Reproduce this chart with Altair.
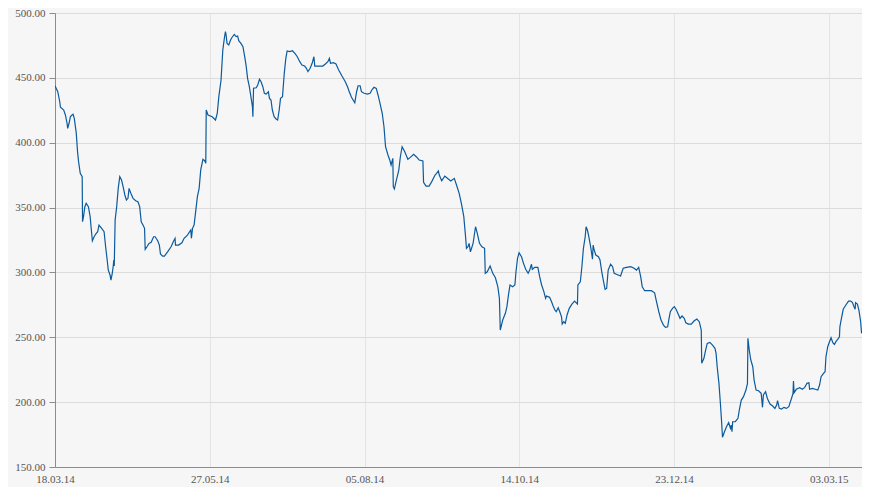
import altair as alt
import pandas as pd

START = "2014-03-18"
END = "2015-03-18"

# days since 18.03.14 (fractional)
days = [0, 1.25, 2.15, 2.46, 3.94, 4.7, 5.46, 5.73, 6.36, 6.94, 7.7, 8.15, 8.73, 9.63, 10.2, 10.66, 11.42, 12.3, 12.45, 12.9,
        13.5, 14.1, 15.1, 15.9, 16.3, 16.9, 17.7, 18.4, 19.3, 19.9, 21.1, 22.2, 22.9, 23.6, 24.1, 24.9, 25.3, 25.9, 26.3, 26.6,
        26.8, 27.2, 27.9, 28.6, 29.3, 30.1, 30.8, 31.6, 32.3, 33.0, 33.5, 34.3, 35.3, 36.5, 37.5, 38.3, 39.0, 39.8, 40.5, 40.8,
        41.6, 42.5, 43.5, 44.6, 45.3, 46.5, 47.2, 47.7, 48.7, 49.5, 51.0, 52.5, 53.5, 54.3, 54.5, 55.9, 57.4, 58.4, 59.9, 61.4,
        61.7, 62.2, 62.9, 63.7, 64.4, 65.2, 65.9, 66.9, 67.7, 68.2, 68.4, 69.2, 71.1, 72.6, 73.4, 74.1, 75.1, 75.9, 76.7, 77.1,
        77.4, 77.8, 78.6, 79.4, 80.1, 81.1, 81.9, 82.6, 83.1, 84.1, 85.0, 85.8, 86.5, 87.1, 87.9, 88.6, 89.3, 89.5, 89.8, 91.0,
        91.7, 92.5, 93.2, 94.0, 94.7, 95.5, 96.5, 97.0, 97.7, 98.3, 99.1, 100.0, 100.7, 101.4, 102.0, 102.9, 103.7, 104.4, 105.0, 106.2,
        107.4, 108.5, 109.6, 110.7, 111.7, 112.9, 113.7, 114.4, 115.4, 116.3, 117.1, 117.5, 118.9, 121.1, 122.3, 123.4, 124.1, 124.6, 125.9, 127.1,
        128.3, 129.8, 131.3, 132.3, 133.1, 134.1, 135.6, 136.4, 137.1, 138.0, 138.6, 139.8, 141.3, 142.5, 143.5, 144.3, 145.3, 146.1, 147.0, 148.0,
        148.8, 149.5, 150.6, 151.4, 152.0, 152.8, 153.0, 153.5, 154.4, 155.5, 156.2, 157.0, 158.2, 159.6, 160.7, 162.2, 163.4, 164.7, 166.4, 166.7,
        167.8, 169.2, 170.4, 171.9, 172.6, 173.4, 173.8, 174.9, 176.3, 177.9, 179.0, 180.6, 181.6, 182.8, 183.8, 184.9, 185.3, 185.7, 186.1, 186.8,
        187.3, 187.9, 189.1, 190.2, 191.0, 192.0, 193.1, 194.3, 194.6, 195.5, 196.8, 198.0, 199.2, 200.3, 201.0, 201.4, 202.5, 203.7, 204.4, 205.2,
        205.8, 207.0, 208.0, 208.5, 209.2, 209.9, 211.0, 211.9, 212.9, 214.0, 214.7, 215.5, 215.9, 217.0, 218.4, 219.2, 220.1, 221.1, 221.9, 222.3,
        223.7, 224.6, 225.3, 226.1, 226.7, 227.6, 228.3, 229.1, 229.4, 230.1, 230.8, 231.6, 232.6, 233.8, 235.0, 236.3, 236.5, 237.6, 238.3, 239.0,
        239.8, 240.2, 240.8, 241.3, 242.0, 242.5, 243.1, 243.4, 243.8, 244.6, 245.8, 246.5, 247.3, 248.0, 248.8, 249.5, 250.2, 251.3, 252.2, 252.9,
        254.7, 255.8, 257.0, 258.5, 260.4, 261.9, 263.0, 264.0, 264.9, 265.6, 266.7, 269.7, 271.2, 271.9, 273.1, 274.1, 275.2, 276.1, 277.1, 277.6,
        278.3, 279.3, 280.1, 280.9, 281.6, 282.7, 283.6, 284.6, 285.3, 286.5, 287.8, 289.0, 290.3, 291.4, 292.3, 292.5, 293.5, 294.3, 295.0, 296.2,
        297.3, 298.5, 299.0, 299.5, 300.3, 301.0, 301.5, 301.9, 302.8, 303.7, 304.7, 305.5, 305.9, 306.2, 306.5, 307.7, 308.9, 309.5, 310.4, 311.4,
        312.5, 313.2, 313.4, 314.0, 314.7, 315.6, 316.2, 317.1, 318.2, 319.4, 320.0, 320.4, 321.4, 322.2, 323.4, 324.6, 325.6, 326.4, 326.8, 327.6,
        328.6, 329.7, 330.8, 331.9, 333.1, 333.8, 334.0, 334.3, 335.3, 336.8, 338.0, 339.1, 340.1, 341.0, 341.3, 342.5, 343.8, 345.0, 345.8, 346.5,
        347.6, 348.3, 348.7, 349.5, 350.3, 351.0, 351.8, 352.5, 353.2, 354.0, 354.8, 355.0, 355.7, 356.5, 357.7, 358.9, 359.9, 360.7, 361.4, 361.9,
        362.1, 362.9, 363.6, 364.4, 364.8]

values = [443.9, 439.3, 431.6, 427.3, 425.2, 421.4, 415.0, 411.0, 415.0, 420.0, 421.4, 421.9, 418.8, 407.2, 393.0, 385.4, 376.4, 373.8, 339.1, 343.0,
          350.7, 353.3, 350.7, 343.0, 335.2, 324.4, 327.5, 329.6, 331.4, 336.5, 334.0, 331.4, 319.8, 309.6, 301.8, 298.0, 294.1, 299.3, 304.4, 309.6,
          305.0, 340.4, 350.7, 364.8, 373.8, 371.2, 366.1, 359.7, 355.8, 357.1, 364.8, 361.0, 357.1, 355.3, 354.5, 350.7, 339.1, 336.5, 334.0, 317.8,
          319.8, 322.4, 323.2, 327.5, 327.5, 324.2, 321.1, 314.2, 312.6, 312.6, 316.0, 319.8, 323.7, 326.3, 321.1, 321.1, 322.9, 326.3, 328.8, 332.7,
          326.3, 334.0, 336.5, 348.0, 358.4, 364.8, 378.9, 387.2, 386.1, 384.1, 425.2, 421.4, 420.0, 417.5, 422.7, 435.5, 448.3, 471.5, 481.8, 485.6,
          483.0, 476.6, 475.3, 479.2, 481.3, 483.5, 481.8, 482.3, 478.6, 476.6, 474.0, 466.3, 458.6, 449.6, 443.2, 435.5, 427.8, 420.0, 442.0, 442.4,
          444.5, 448.9, 447.0, 443.2, 438.1, 437.5, 439.3, 434.2, 432.9, 425.2, 420.0, 418.3, 417.5, 425.2, 434.2, 435.5, 453.5, 465.1, 470.7, 470.2,
          470.9, 468.9, 466.3, 462.5, 459.9, 459.1, 457.4, 454.8, 457.4, 461.2, 466.3, 459.1, 459.1, 459.1, 460.7, 462.5, 465.1, 461.2, 461.7, 460.7,
          456.1, 451.4, 447.0, 443.2, 439.3, 435.0, 430.8, 439.3, 443.9, 443.9, 439.3, 438.1, 437.5, 438.1, 441.2, 442.7, 441.9, 436.8, 430.4, 422.7,
          412.3, 396.9, 390.5, 386.7, 382.8, 388.0, 366.1, 364.3, 371.2, 378.9, 389.2, 396.9, 393.0, 387.2, 388.7, 391.0, 389.2, 386.7, 385.9, 369.5,
          366.6, 366.6, 370.0, 375.1, 376.4, 378.2, 375.1, 370.7, 374.3, 372.0, 370.5, 372.5, 367.4, 361.0, 353.3, 343.0, 335.2, 327.5, 318.6, 319.8,
          322.4, 315.9, 322.4, 335.2, 330.1, 322.4, 319.8, 318.6, 299.3, 300.5, 304.9, 299.3, 295.9, 288.9, 280.0, 255.6, 263.3, 268.5, 273.6, 283.9,
          290.3, 288.9, 290.3, 300.5, 310.8, 315.1, 312.1, 307.0, 302.4, 299.3, 301.8, 306.3, 302.4, 303.9, 303.9, 296.7, 290.3, 285.2, 280.0, 281.8,
          280.8, 277.4, 274.1, 271.0, 269.7, 272.8, 269.7, 265.8, 260.2, 262.0, 260.8, 267.2, 272.3, 275.5, 277.9, 275.6, 290.3, 292.8, 304.4, 318.6,
          327.5, 335.2, 332.7, 328.8, 322.4, 317.3, 310.2, 321.1, 317.8, 313.4, 312.1, 309.6, 300.5, 293.9, 286.9, 287.6, 301.8, 306.3, 304.4, 299.3,
          298.0, 297.2, 303.2, 303.9, 304.4, 303.2, 301.8, 303.9, 296.7, 289.0, 285.9, 285.9, 284.3, 278.7, 269.7, 263.3, 259.4, 257.6, 258.1, 263.3,
          269.7, 272.3, 273.6, 271.6, 269.0, 264.6, 266.4, 264.6, 261.2, 260.2, 260.2, 262.5, 264.1, 262.0, 255.6, 229.9, 233.8, 240.2, 245.3, 246.1,
          244.1, 241.5, 237.6, 227.3, 214.5, 197.8, 184.9, 172.9, 177.2, 181.1, 184.2, 179.8, 182.3, 177.2, 184.9, 184.9, 187.5, 193.9, 201.6, 204.2,
          209.3, 214.5, 249.2, 240.2, 232.5, 227.3, 217.0, 209.3, 208.8, 206.8, 196.0, 205.5, 208.0, 202.8, 198.5, 197.0, 195.2, 197.8, 201.1, 195.2,
          194.7, 196.0, 195.2, 196.5, 202.8, 206.8, 216.3, 207.3, 209.9, 211.1, 209.9, 211.4, 214.5, 215.0, 209.9, 210.6, 209.9, 209.3, 213.2, 219.6,
          222.2, 223.4, 235.0, 242.7, 246.6, 249.7, 245.8, 244.4, 246.6, 248.4, 250.4, 258.1, 264.6, 271.6, 274.9, 277.9, 277.9, 276.7, 273.6, 271.6,
          276.7, 275.6, 271.0, 262.0, 253.0]

x_ticks = ["2014-03-18", "2014-05-27", "2014-08-05", "2014-10-14", "2014-12-23", "2015-03-03"]
y_ticks = [150, 200, 250, 300, 350, 400, 450, 500]

start = pd.Timestamp(START)
dates = [(start + pd.to_timedelta(d, unit="D")).strftime("%Y-%m-%dT%H:%M:%S") for d in days]
df = pd.DataFrame({"date": dates, "value": values, "i": list(range(len(values)))})


def dt(s):
    t = pd.Timestamp(s)
    return alt.DateTime(year=t.year, month=t.month, date=t.day)


FONT = "Liberation Sans Narrow"

chart = alt.Chart(df).mark_line(color="#0b5a9e", strokeWidth=1.2, clip=True).encode(
    x=alt.X("date:T",
            scale=alt.Scale(domain=[dt(START), dt(END)]),
            axis=alt.Axis(values=[dt(s) for s in x_ticks], format="%d.%m.%y", title=None,
                          grid=True, gridColor="#e4e4e4", ticks=False, labelPadding=6,
                          domainColor="#8c8c8c", labelColor="#555555", labelFont=FONT,
                          labelFontSize=11, labelFlush=False, labelOverlap=False)),
    y=alt.Y("value:Q",
            scale=alt.Scale(domain=[150, 500], nice=False, zero=False),
            axis=alt.Axis(values=y_ticks, format=".2f", title=None, grid=True,
                          gridColor="#dcdcdc", tickColor="#8c8c8c", tickSize=6,
                          labelPadding=4, domainColor="#8c8c8c", labelColor="#555555",
                          labelFont=FONT, labelFontSize=11)),
    order="i:Q",
).properties(
    width=807, height=454,
    background="#f6f6f6",
    padding={"left": 47, "top": 5, "right": 0, "bottom": 20},
    autosize=alt.AutoSizeParams(type="none"),
).configure_view(stroke=None, fill="#f6f6f6")

chart.save("out.html", embed_options={"renderer": "svg", "actions": False})
